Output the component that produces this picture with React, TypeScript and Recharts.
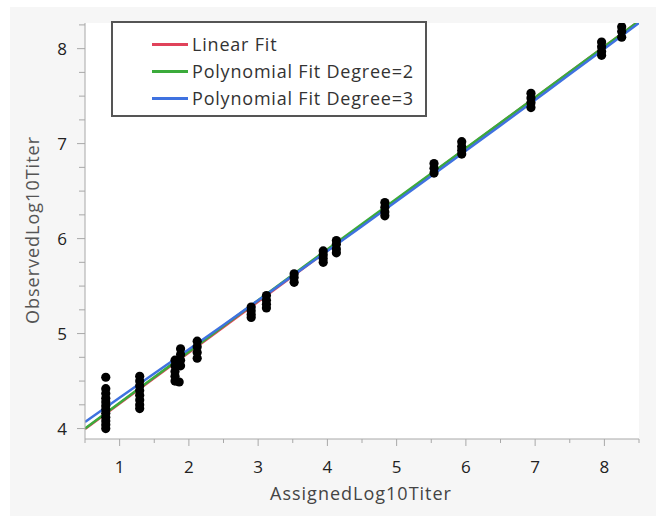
import { ComposedChart, Scatter, Line, XAxis, YAxis, CartesianGrid } from 'recharts';

// assigned titer levels (x) and the replicate observations read at each level
const assignedLevels = [0.8, 1.29, 1.8, 1.86, 1.88, 2.12, 2.9, 3.12, 3.52, 3.94, 4.13, 4.83, 5.54, 5.94, 6.94, 7.96, 8.25];
const observedByLevel = [
  [4.54, 4.42, 4.37, 4.32, 4.28, 4.24, 4.2, 4.16, 4.12, 4.08, 4.04, 4.0],
  [4.55, 4.5, 4.45, 4.4, 4.35, 4.3, 4.25, 4.21],
  [4.72, 4.66, 4.6, 4.55, 4.5],
  [4.49],
  [4.84, 4.78, 4.72, 4.66],
  [4.92, 4.86, 4.8, 4.74],
  [5.28, 5.24, 5.2, 5.17],
  [5.4, 5.35, 5.31, 5.27],
  [5.63, 5.59, 5.54],
  [5.87, 5.83, 5.79, 5.75],
  [5.98, 5.94, 5.89, 5.85],
  [6.38, 6.33, 6.28, 6.24],
  [6.79, 6.74, 6.69],
  [7.02, 6.97, 6.93, 6.89],
  [7.53, 7.48, 7.43, 7.38],
  [8.07, 8.02, 7.97, 7.93],
  [8.23, 8.18, 8.12],
];

const linearFit = [
  { x: 0.5, y: 3.995 },
  { x: 8.5, y: 8.29 },
];
const poly2Fit = [
  { x: 0.5, y: 4.0 },
  { x: 2, y: 4.81 },
  { x: 3.5, y: 5.62 },
  { x: 5, y: 6.42 },
  { x: 6.5, y: 7.22 },
  { x: 8.5, y: 8.29 },
];
const poly3Fit = [
  { x: 0.5, y: 4.07 },
  { x: 1.5, y: 4.58 },
  { x: 2.5, y: 5.09 },
  { x: 3.5, y: 5.61 },
  { x: 4.5, y: 6.13 },
  { x: 5.5, y: 6.66 },
  { x: 6.5, y: 7.19 },
  { x: 7.5, y: 7.73 },
  { x: 8.5, y: 8.27 },
];

const xTicks = [0.5, 1, 1.5, 2, 2.5, 3, 3.5, 4, 4.5, 5, 5.5, 6, 6.5, 7, 7.5, 8, 8.5];
const yTicks = [4, 4.25, 4.5, 4.75, 5, 5.25, 5.5, 5.75, 6, 6.25, 6.5, 6.75, 7, 7.25, 7.5, 7.75, 8, 8.25];

const legendItems = [
  { name: 'Linear Fit', color: '#e0425a' },
  { name: 'Polynomial Fit Degree=2', color: '#3bab3b' },
  { name: 'Polynomial Fit Degree=3', color: '#3f72e0' },
];

const points = assignedLevels.flatMap((x, i) => observedByLevel[i].map((y) => ({ x, y })));

const font = '"Open Sans", sans-serif';
const axisGray = '#a8a8a8';

const XTick = (props: any) => {
  const { x, y, payload } = props;
  const major = Number.isInteger(payload.value);
  return (
    <g>
      <line x1={x} x2={x} y1={y} y2={y + (major ? 7 : 4)} stroke={axisGray} />
      {major && (
        <text x={x} y={y + 34} textAnchor="middle" fontSize={17} fontFamily={font} fill="#222">
          {payload.value}
        </text>
      )}
    </g>
  );
};

const YTick = (props: any) => {
  const { x, y, payload } = props;
  const major = Number.isInteger(payload.value);
  return (
    <g>
      <line x1={x - (major ? 8 : 6)} x2={x} y1={y} y2={y} stroke={axisGray} />
      {major && (
        <text x={x - 23} y={y + 6} textAnchor="middle" fontSize={17} fontFamily={font} fill="#222">
          {payload.value}
        </text>
      )}
    </g>
  );
};

const Dot = (props: any) => <circle cx={props.cx} cy={props.cy} r={4.6} fill="#000" />;

export default function App() {
  return (
    <div style={{ position: 'absolute', left: 0, top: 0, width: 660, height: 522, background: '#fff', fontFamily: font }}>
      <div style={{ position: 'absolute', left: 10, top: 7, width: 646, height: 509, background: '#f6f6f6' }} />
      <div style={{ position: 'absolute', left: 0, top: 0 }}>
        <ComposedChart width={660} height={522} margin={{ top: 23, right: 21, bottom: 53, left: 45 }}>
          <CartesianGrid horizontal={false} vertical={false} fill="#fff" fillOpacity={1} />
          <XAxis
            xAxisId="b"
            type="number"
            dataKey="x"
            domain={[0.5, 8.5]}
            ticks={xTicks}
            interval={0}
            allowDataOverflow
            height={30}
            stroke={axisGray}
            tickLine={false}
            tickSize={0}
            tickMargin={0}
            tick={<XTick />}
          />
          <XAxis xAxisId="t" orientation="top" type="number" dataKey="x" domain={[0.5, 8.5]} height={0} tick={false} tickLine={false} stroke={axisGray} />
          <YAxis
            yAxisId="l"
            type="number"
            dataKey="y"
            domain={[3.89, 8.27]}
            ticks={yTicks}
            interval={0}
            allowDataOverflow
            width={40}
            stroke={axisGray}
            tickLine={false}
            tickSize={0}
            tickMargin={0}
            tick={<YTick />}
          />
          <YAxis yAxisId="r" orientation="right" type="number" dataKey="y" domain={[3.89, 8.27]} width={0} tick={false} tickLine={false} stroke={axisGray} />
          <Scatter xAxisId="b" yAxisId="l" data={points} shape={<Dot />} isAnimationActive={false} />
          <Line xAxisId="b" yAxisId="l" data={linearFit} dataKey="y" type="linear" stroke={legendItems[0].color} strokeWidth={2.5} dot={false} isAnimationActive={false} />
          <Line xAxisId="b" yAxisId="l" data={poly2Fit} dataKey="y" type="monotone" stroke={legendItems[1].color} strokeWidth={2.5} dot={false} isAnimationActive={false} />
          <Line xAxisId="b" yAxisId="l" data={poly3Fit} dataKey="y" type="monotone" stroke={legendItems[2].color} strokeWidth={2.5} dot={false} isAnimationActive={false} />
        </ComposedChart>
      </div>
      <div
        style={{
          position: 'absolute',
          left: 111,
          top: 21,
          width: 312,
          height: 92,
          border: '2px solid #555',
          background: '#fff',
          boxSizing: 'content-box',
        }}
      >
        {legendItems.map((it, i) => (
          <div key={it.name} style={{ position: 'absolute', left: 39, top: 9 + i * 27, height: 24, display: 'flex', alignItems: 'center' }}>
            <div style={{ width: 36, height: 3, background: it.color, marginRight: 4 }} />
            <span style={{ fontSize: 18, letterSpacing: 0.8, color: '#333', whiteSpace: 'nowrap' }}>{it.name}</span>
          </div>
        ))}
      </div>
      <div style={{ position: 'absolute', left: 0, width: 722, top: 481, textAlign: 'center', fontSize: 18, letterSpacing: 1, color: '#444' }}>
        AssignedLog10Titer
      </div>
      <div
        style={{
          position: 'absolute',
          left: 32,
          top: 230,
          transform: 'translate(-50%, -50%) rotate(-90deg)',
          fontSize: 18,
          letterSpacing: 1,
          color: '#555',
          whiteSpace: 'nowrap',
        }}
      >
        ObservedLog10Titer
      </div>
    </div>
  );
}
